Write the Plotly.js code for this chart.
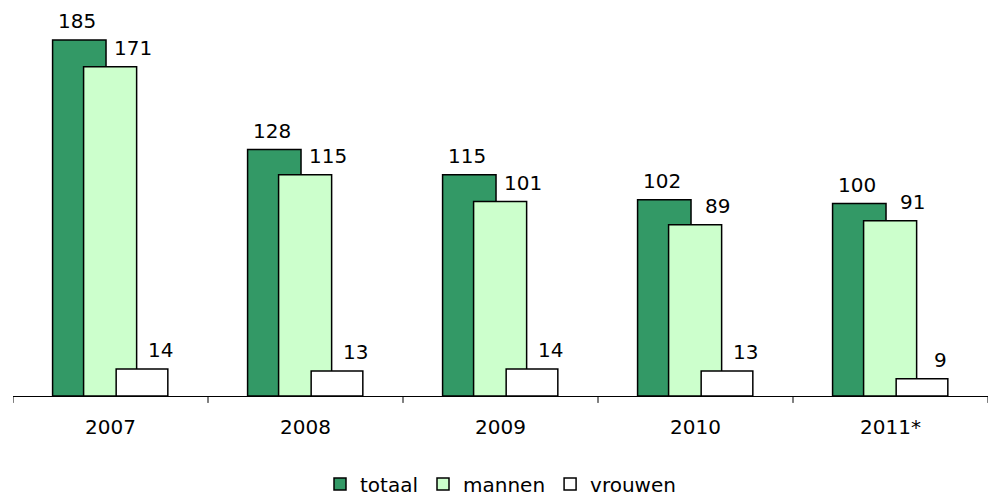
<!DOCTYPE html>
<html>
<head>
<meta charset="utf-8">
<script src="https://cdn.plot.ly/plotly-3.0.1.min.js"></script>
<style>html,body{margin:0;padding:0;background:#fff;}#chart{width:988px;height:502px;}</style>
</head>
<body>
<div id="chart"></div>
<script>
const categories = ['2007', '2008', '2009', '2010', '2011*'];
const totaal = [185, 128, 115, 102, 100];
const mannen = [171, 115, 101, 89, 91];
const vrouwen = [14, 13, 14, 13, 9];
const seriesNames = ['totaal', 'mannen', 'vrouwen'];

const FONT = 'DejaVu Sans, Verdana, sans-serif';
const series = [
  {name: seriesNames[0], y: totaal, color: '#339966', offset: -0.297, width: 0.274, labelDx: -0.172},
  {name: seriesNames[1], y: mannen, color: '#CCFFCC', offset: -0.138, width: 0.272, labelDx: 0.113},
  {name: seriesNames[2], y: vrouwen, color: '#FFFFFF', offset: 0.029, width: 0.265, labelDx: 0.254}
];

const traces = series.map(s => ({
  type: 'bar',
  name: s.name,
  x: categories.map((c, i) => i),
  y: s.y,
  offset: s.offset,
  width: s.width,
  marker: {color: s.color, line: {color: '#000', width: 1.5}},
  hoverinfo: 'none'
}));

const annotations = [];
series.forEach(s => {
  s.y.forEach((v, i) => {
    annotations.push({
      xref: 'x', yref: 'y', x: i + s.labelDx, y: v,
      text: String(v), showarrow: false,
      yanchor: 'middle', xanchor: 'center', yshift: 19,
      font: {family: FONT, size: 20, color: '#000'}
    });
  });
});

const layout = {
  width: 988, height: 502,
  margin: {l: 13, r: 0, t: 11, b: 106, autoexpand: false},
  paper_bgcolor: '#fff', plot_bgcolor: '#fff',
  barmode: 'overlay',
  showlegend: true,
  legend: {
    orientation: 'h', x: 0.5, xanchor: 'center',
    yref: 'container', y: 0.036, yanchor: 'middle',
    font: {family: FONT, size: 20, color: '#000'},
    itemwidth: 30, traceorder: 'normal'
  },
  xaxis: {
    type: 'linear', range: [-0.5, 4.5],
    tickmode: 'array', tickvals: [0, 1, 2, 3, 4], ticktext: categories,
    ticks: '', showgrid: false, zeroline: false,
    showline: true, linecolor: '#000', linewidth: 1,
    tickfont: {family: FONT, size: 20, color: '#000'},
    ticklabelstandoff: 13
  },
  yaxis: {
    range: [0, 200], visible: false, showgrid: false, zeroline: false, fixedrange: true
  },
  shapes: [0, 1, 2, 3, 4, 5].map(k => ({
    type: 'line', xref: 'x', yref: 'paper', x0: k - 0.5, x1: k - 0.5, y0: 0, y1: -0.018,
    line: {color: '#000', width: 1}
  })),
  annotations: annotations,
  font: {family: FONT, color: '#000'}
};

Plotly.newPlot('chart', traces, layout, {staticPlot: true, displayModeBar: false});
</script>
</body>
</html>
